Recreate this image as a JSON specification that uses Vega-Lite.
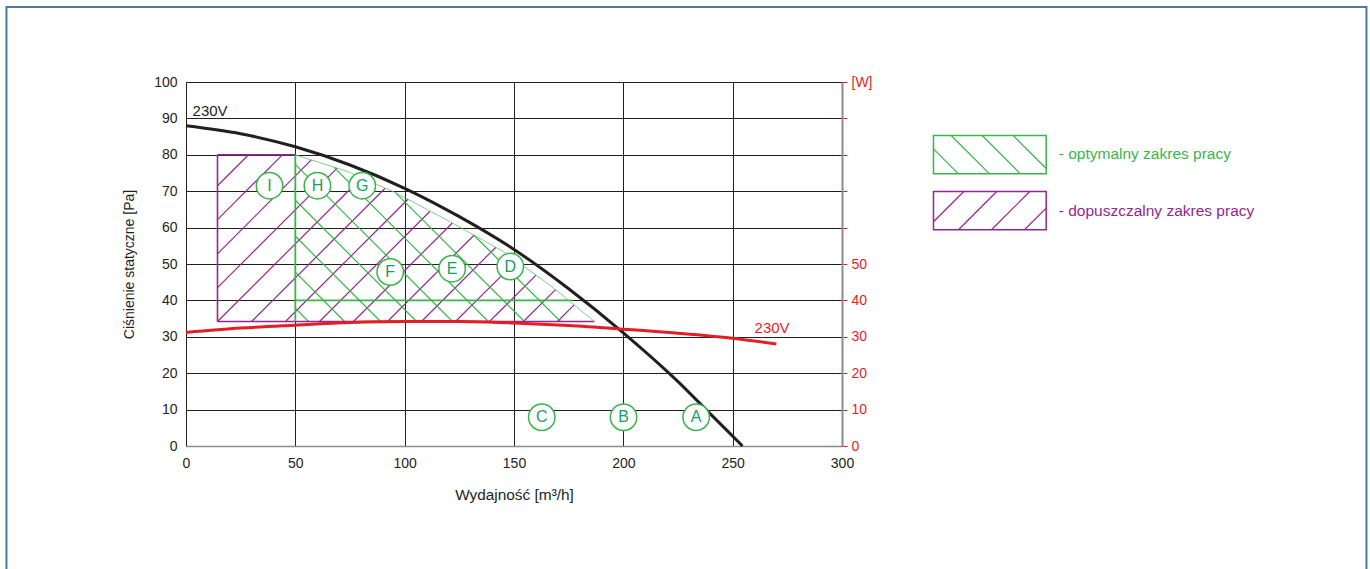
{
  "$schema": "https://vega.github.io/schema/vega-lite/v6.json",
  "width": 656,
  "height": 364,
  "autosize": {"type": "none"},
  "padding": {"left": 186, "top": 82, "right": 528, "bottom": 123},
  "background": "white",
  "config": {
    "view": {"stroke": null},
    "font": "Liberation Sans",
    "axis": {"labelFont": "Liberation Sans", "titleFont": "Liberation Sans", "labelFontSize": 14, "titleFontSize": 14, "titleFontWeight": "normal", "labelColor": "#231f20", "titleColor": "#231f20"}
  },
  "datasets": {
    "frame": [{"x": -82.1, "x2": 539.85, "y": 120.6, "y2": -42}],
    "black": [
      {"x": 0, "y": 88}, {"x": 25, "y": 85.8}, {"x": 50, "y": 82.2}, {"x": 75, "y": 77.2},
      {"x": 100, "y": 70.8}, {"x": 125, "y": 63.0}, {"x": 150, "y": 54.0}, {"x": 175, "y": 43.2},
      {"x": 200, "y": 31.1}, {"x": 225, "y": 17.7}, {"x": 240, "y": 8.7}, {"x": 254.5, "y": 0}
    ],
    "red": [
      {"x": 0, "y": 31.2}, {"x": 25, "y": 32.4}, {"x": 50, "y": 33.2}, {"x": 75, "y": 33.9},
      {"x": 100, "y": 34.2}, {"x": 125, "y": 34.2}, {"x": 150, "y": 33.8}, {"x": 175, "y": 33.1},
      {"x": 200, "y": 32.1}, {"x": 225, "y": 31.0}, {"x": 250, "y": 29.6}, {"x": 270, "y": 28.0}
    ],
    "hatchP": [
      {"x": 14.4, "y": 71.5, "x2": 28.6, "y2": 80},
      {"x": 14.4, "y": 62.2, "x2": 44.1, "y2": 80},
      {"x": 14.4, "y": 52.8, "x2": 57.3, "y2": 78.6},
      {"x": 14.4, "y": 43.5, "x2": 69.1, "y2": 76.35},
      {"x": 14.4, "y": 34.2, "x2": 80.3, "y2": 73.7},
      {"x": 30.0, "y": 34.2, "x2": 91.05, "y2": 70.8},
      {"x": 45.5, "y": 34.2, "x2": 101.5, "y2": 67.8},
      {"x": 61.05, "y": 34.2, "x2": 111.6, "y2": 64.5},
      {"x": 76.6, "y": 34.2, "x2": 121.8, "y2": 61.25},
      {"x": 92.15, "y": 34.2, "x2": 131.7, "y2": 57.9},
      {"x": 107.7, "y": 34.2, "x2": 141.7, "y2": 54.6},
      {"x": 123.25, "y": 34.2, "x2": 151.0, "y2": 50.8},
      {"x": 138.8, "y": 34.2, "x2": 160.1, "y2": 46.95},
      {"x": 154.3, "y": 34.2, "x2": 169.0, "y2": 42.95},
      {"x": 169.9, "y": 34.2, "x2": 177.5, "y2": 38.75}
    ],
    "hatchG": [
      {"x": 50, "y": 37.87, "x2": 56.0, "y2": 34.2},
      {"x": 50, "y": 47.75, "x2": 72.5, "y2": 34.2},
      {"x": 50, "y": 57.63, "x2": 89.0, "y2": 34.2},
      {"x": 50, "y": 67.51, "x2": 105.45, "y2": 34.2},
      {"x": 50, "y": 77.39, "x2": 121.9, "y2": 34.2},
      {"x": 67.6, "y": 76.6, "x2": 138.3, "y2": 34.2},
      {"x": 95.8, "y": 69.6, "x2": 154.8, "y2": 34.2},
      {"x": 131.7, "y": 57.9, "x2": 171.3, "y2": 34.2}
    ],
    "edgeP": [
      {"x": 14.4, "y": 80, "x2": 50, "y2": 80},
      {"x": 14.4, "y": 80, "x2": 14.4, "y2": 34.2},
      {"x": 14.4, "y": 34.2, "x2": 186.8, "y2": 34.2}
    ],
    "edgeG": [
      {"x": 50, "y": 80, "x2": 50, "y2": 34.2},
      {"x": 50, "y": 40, "x2": 176.7, "y2": 40}
    ],
    "bound": [
      {"x": 50, "y": 80}, {"x": 74, "y": 75.4}, {"x": 96.1, "y": 69.5}, {"x": 120.5, "y": 61.7},
      {"x": 144.9, "y": 53.5}, {"x": 166.2, "y": 44.3}, {"x": 186.8, "y": 34.2}
    ],
    "circles": [
      {"x": 38.2, "y": 71.5, "t": "I"}, {"x": 60.1, "y": 71.5, "t": "H"}, {"x": 80.6, "y": 71.5, "t": "G"},
      {"x": 93.4, "y": 47.8, "t": "F"}, {"x": 121.7, "y": 48.7, "t": "E"}, {"x": 148.3, "y": 49.3, "t": "D"},
      {"x": 162.7, "y": 7.9, "t": "C"}, {"x": 200.1, "y": 7.9, "t": "B"}, {"x": 233.3, "y": 7.9, "t": "A"}
    ],
    "legendBox": [
      {"k": "opt", "x": 341.84, "x2": 393.38, "y": 85.29, "y2": 74.78},
      {"k": "dop", "x": 341.84, "x2": 393.38, "y": 69.92, "y2": 59.41}
    ],
    "legendHatch": [
      {"k": "opt", "x": 341.84, "y": 81.64, "x2": 353.27, "y2": 74.78},
      {"k": "opt", "x": 349.93, "y": 85.29, "x2": 367.45, "y2": 74.78},
      {"k": "opt", "x": 364.1, "y": 85.29, "x2": 381.62, "y2": 74.78},
      {"k": "opt", "x": 378.28, "y": 85.29, "x2": 393.38, "y2": 76.24},
      {"k": "dop", "x": 341.84, "y": 61.61, "x2": 355.7, "y2": 69.92},
      {"k": "dop", "x": 353.27, "y": 59.41, "x2": 370.78, "y2": 69.92},
      {"k": "dop", "x": 368.36, "y": 59.41, "x2": 385.88, "y2": 69.92},
      {"k": "dop", "x": 383.45, "y": 59.41, "x2": 393.38, "y2": 65.37}
    ],
    "legendText": [
      {"k": "opt", "x": 399.1, "y": 80.2, "t": "- optymalny zakres pracy"},
      {"k": "dop", "x": 399.1, "y": 64.6, "t": "- dopuszczalny zakres pracy"}
    ],
    "blackLabel": [{"x": 3, "y": 92, "t": "230V"}],
    "redLabel": [{"x": 260, "y": 32.4, "t": "230V"}]
  },
  "resolve": {"scale": {"y": "independent"}, "axis": {"y": "independent"}},
  "layer": [
    {
      "data": {"name": "black"},
      "mark": {"type": "line", "color": "#231f20", "strokeWidth": 3, "interpolate": "monotone"},
      "encoding": {
        "x": {"field": "x", "type": "quantitative", "scale": {"domain": [0, 300], "nice": false, "zero": false},
          "axis": {"title": "Wydajność [m³/h]", "titleFontSize": 15.4, "values": [0, 50, 100, 150, 200, 250, 300], "grid": true, "gridColor": "#231f20", "gridWidth": 1, "domainColor": "#8c8c8c", "domainWidth": 1.5, "ticks": false, "labelPadding": 10, "titlePadding": 17, "labelFlush": false, "labelOverlap": false}},
        "y": {"field": "y", "type": "quantitative", "scale": {"domain": [0, 100], "nice": false, "zero": false},
          "axis": {"orient": "left", "title": "Ciśnienie statyczne [Pa]", "values": [0, 10, 20, 30, 40, 50, 60, 70, 80, 90, 100], "grid": true, "gridColor": "#231f20", "gridWidth": 1, "domain": false, "ticks": false, "labelPadding": 9, "titlePadding": 17, "labelOverlap": false}}
      }
    },
    {
      "data": {"name": "frame"},
      "mark": {"type": "rect", "filled": false, "color": "#4d78a3", "strokeWidth": 2},
      "encoding": {
        "x": {"field": "x", "type": "quantitative", "scale": {"domain": [0, 300], "nice": false, "zero": false}},
        "x2": {"field": "x2"},
        "y": {"field": "y", "type": "quantitative", "scale": {"domain": [0, 100], "nice": false, "zero": false}, "axis": null},
        "y2": {"field": "y2"}
      }
    },
    {
      "data": {"name": "hatchP"},
      "mark": {"type": "rule", "color": "#92278f", "strokeWidth": 1.2},
      "encoding": {
        "x": {"field": "x", "type": "quantitative", "scale": {"domain": [0, 300], "nice": false, "zero": false}},
        "x2": {"field": "x2"},
        "y": {"field": "y", "type": "quantitative", "scale": {"domain": [0, 100], "nice": false, "zero": false}, "axis": null},
        "y2": {"field": "y2"}
      }
    },
    {
      "data": {"name": "hatchG"},
      "mark": {"type": "rule", "color": "#3ab54a", "strokeWidth": 1.2},
      "encoding": {
        "x": {"field": "x", "type": "quantitative", "scale": {"domain": [0, 300], "nice": false, "zero": false}},
        "x2": {"field": "x2"},
        "y": {"field": "y", "type": "quantitative", "scale": {"domain": [0, 100], "nice": false, "zero": false}, "axis": null},
        "y2": {"field": "y2"}
      }
    },
    {
      "data": {"name": "edgeP"},
      "mark": {"type": "rule", "color": "#92278f", "strokeWidth": 1.6},
      "encoding": {
        "x": {"field": "x", "type": "quantitative", "scale": {"domain": [0, 300], "nice": false, "zero": false}},
        "x2": {"field": "x2"},
        "y": {"field": "y", "type": "quantitative", "scale": {"domain": [0, 100], "nice": false, "zero": false}, "axis": null},
        "y2": {"field": "y2"}
      }
    },
    {
      "data": {"name": "edgeG"},
      "mark": {"type": "rule", "color": "#3ab54a", "strokeWidth": 1.8},
      "encoding": {
        "x": {"field": "x", "type": "quantitative", "scale": {"domain": [0, 300], "nice": false, "zero": false}},
        "x2": {"field": "x2"},
        "y": {"field": "y", "type": "quantitative", "scale": {"domain": [0, 100], "nice": false, "zero": false}, "axis": null},
        "y2": {"field": "y2"}
      }
    },
    {
      "data": {"name": "bound"},
      "mark": {"type": "line", "color": "#5fc36d", "strokeWidth": 0.8},
      "encoding": {
        "x": {"field": "x", "type": "quantitative", "scale": {"domain": [0, 300], "nice": false, "zero": false}},
        "y": {"field": "y", "type": "quantitative", "scale": {"domain": [0, 100], "nice": false, "zero": false}, "axis": null}
      }
    },
    {
      "data": {"name": "red"},
      "mark": {"type": "line", "color": "#e31e24", "strokeWidth": 3, "interpolate": "monotone"},
      "encoding": {
        "x": {"field": "x", "type": "quantitative", "scale": {"domain": [0, 300], "nice": false, "zero": false}},
        "y": {"field": "y", "type": "quantitative", "scale": {"domain": [0, 100], "nice": false, "zero": false},
          "axis": {"orient": "right", "title": null, "values": [0, 10, 20, 30, 40, 50, 60, 70, 80, 90, 100], "grid": false,
            "labelExpr": "datum.value == 100 ? '[W]' : (datum.value <= 50 ? datum.label : '')",
            "labelColor": "#e31e24", "tickColor": "#e31e24", "tickSize": 5, "tickWidth": 1, "domainColor": "#8c8c8c", "domainWidth": 2, "labelPadding": 4, "labelOverlap": false}}
      }
    },
    {
      "data": {"name": "circles"},
      "mark": {"type": "point", "shape": "circle", "filled": true, "fill": "white", "stroke": "#3ab54a", "strokeWidth": 1.5, "size": 700, "opacity": 1},
      "encoding": {
        "x": {"field": "x", "type": "quantitative", "scale": {"domain": [0, 300], "nice": false, "zero": false}},
        "y": {"field": "y", "type": "quantitative", "scale": {"domain": [0, 100], "nice": false, "zero": false}, "axis": null}
      }
    },
    {
      "data": {"name": "circles"},
      "mark": {"type": "text", "color": "#17a05d", "fontSize": 16, "align": "center", "baseline": "middle", "font": "Liberation Sans"},
      "encoding": {
        "x": {"field": "x", "type": "quantitative", "scale": {"domain": [0, 300], "nice": false, "zero": false}},
        "y": {"field": "y", "type": "quantitative", "scale": {"domain": [0, 100], "nice": false, "zero": false}, "axis": null},
        "text": {"field": "t"}
      }
    },
    {
      "data": {"name": "blackLabel"},
      "mark": {"type": "text", "color": "#231f20", "fontSize": 15, "align": "left", "baseline": "middle", "font": "Liberation Sans"},
      "encoding": {
        "x": {"field": "x", "type": "quantitative", "scale": {"domain": [0, 300], "nice": false, "zero": false}},
        "y": {"field": "y", "type": "quantitative", "scale": {"domain": [0, 100], "nice": false, "zero": false}, "axis": null},
        "text": {"field": "t"}
      }
    },
    {
      "data": {"name": "redLabel"},
      "mark": {"type": "text", "color": "#e31e24", "fontSize": 15, "align": "left", "baseline": "middle", "font": "Liberation Sans"},
      "encoding": {
        "x": {"field": "x", "type": "quantitative", "scale": {"domain": [0, 300], "nice": false, "zero": false}},
        "y": {"field": "y", "type": "quantitative", "scale": {"domain": [0, 100], "nice": false, "zero": false}, "axis": null},
        "text": {"field": "t"}
      }
    },
    {
      "data": {"name": "legendBox"},
      "mark": {"type": "rect", "filled": false, "strokeWidth": 1.5},
      "encoding": {
        "x": {"field": "x", "type": "quantitative", "scale": {"domain": [0, 300], "nice": false, "zero": false}},
        "x2": {"field": "x2"},
        "y": {"field": "y", "type": "quantitative", "scale": {"domain": [0, 100], "nice": false, "zero": false}, "axis": null},
        "y2": {"field": "y2"},
        "color": {"field": "k", "type": "nominal", "scale": {"domain": ["opt", "dop"], "range": ["#3ab54a", "#92278f"]}, "legend": null}
      }
    },
    {
      "data": {"name": "legendHatch"},
      "mark": {"type": "rule", "strokeWidth": 1.2},
      "encoding": {
        "x": {"field": "x", "type": "quantitative", "scale": {"domain": [0, 300], "nice": false, "zero": false}},
        "x2": {"field": "x2"},
        "y": {"field": "y", "type": "quantitative", "scale": {"domain": [0, 100], "nice": false, "zero": false}, "axis": null},
        "y2": {"field": "y2"},
        "color": {"field": "k", "type": "nominal", "scale": {"domain": ["opt", "dop"], "range": ["#3ab54a", "#92278f"]}, "legend": null}
      }
    },
    {
      "data": {"name": "legendText"},
      "mark": {"type": "text", "fontSize": 15.5, "align": "left", "baseline": "middle", "font": "Liberation Sans"},
      "encoding": {
        "x": {"field": "x", "type": "quantitative", "scale": {"domain": [0, 300], "nice": false, "zero": false}},
        "y": {"field": "y", "type": "quantitative", "scale": {"domain": [0, 100], "nice": false, "zero": false}, "axis": null},
        "text": {"field": "t"},
        "color": {"field": "k", "type": "nominal", "scale": {"domain": ["opt", "dop"], "range": ["#3ab54a", "#92278f"]}, "legend": null}
      }
    }
  ]
}
